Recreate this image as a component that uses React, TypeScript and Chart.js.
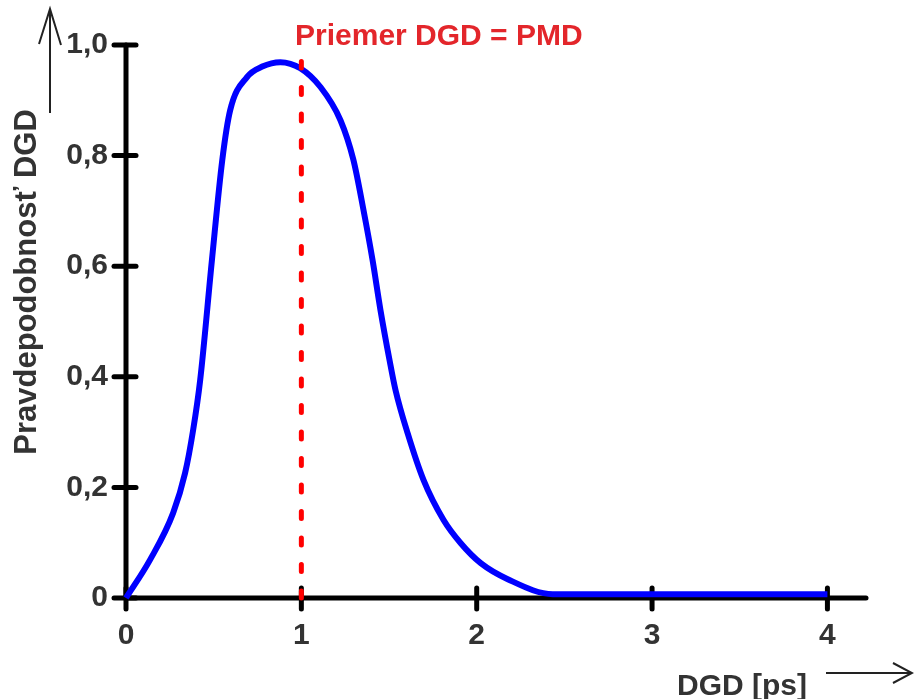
import React, { useEffect, useRef } from 'react';
import { Chart, registerables } from 'chart.js';

Chart.register(...registerables);

// ---- data ----
const dgdValues = [
  0, 0.137, 0.269, 0.337, 0.383, 0.423, 0.49, 0.549, 0.594, 0.69, 0.777, 0.88, 0.994,
  1.109, 1.223, 1.297, 1.354, 1.406, 1.451, 1.503, 1.537, 1.606, 1.697, 1.811,
  1.909, 2.023, 2.177, 2.434, 4.0,
];
const probabilityValues = [
  0, 0.069, 0.154, 0.226, 0.304, 0.394, 0.611, 0.792, 0.882, 0.942, 0.961, 0.969, 0.958,
  0.924, 0.864, 0.792, 0.702, 0.611, 0.521, 0.43, 0.376, 0.298, 0.213, 0.141,
  0.099, 0.063, 0.034, 0.007, 0.007,
];
const meanLineX = [1.0, 1.0];
const meanLineY = [0, 0.97];
const xTickValues = [0, 1, 2, 3, 4];
const yTickValues = [0, 0.2, 0.4, 0.6, 0.8, 1.0];
const xMax = 4.22;

const chartTitle = 'Priemer DGD = PMD';
const xAxisTitle = 'DGD [ps]';
const yAxisTitle = 'Pravdepodobnosť DGD';

const FONT = 'Arial, "Liberation Sans", sans-serif';
const TEXT_COLOR = '#333333';

const decorPlugin = {
  id: 'decor',
  beforeDatasetsDraw(chart: any) {
    const ctx = chart.ctx;
    const xs = chart.scales.x;
    const ys = chart.scales.y;
    const x0 = xs.getPixelForValue(0);
    const y0 = ys.getPixelForValue(0);
    const yTop = ys.getPixelForValue(yTickValues[yTickValues.length - 1]);
    ctx.save();
    ctx.strokeStyle = '#000000';
    ctx.lineWidth = 5;
    ctx.lineCap = 'round';
    ctx.beginPath();
    ctx.moveTo(x0, yTop);
    ctx.lineTo(x0, y0);
    ctx.stroke();
    ctx.beginPath();
    ctx.moveTo(x0, y0);
    ctx.lineTo(xs.right, y0);
    ctx.stroke();
    yTickValues.forEach((v) => {
      const py = ys.getPixelForValue(v);
      ctx.beginPath();
      ctx.moveTo(x0 - 12, py);
      ctx.lineTo(x0 + 10, py);
      ctx.stroke();
    });
    xTickValues.forEach((v) => {
      const px = xs.getPixelForValue(v);
      ctx.beginPath();
      ctx.moveTo(px, y0 - 10);
      ctx.lineTo(px, y0 + 11);
      ctx.stroke();
    });
    ctx.restore();
  },
  afterDraw(chart: any) {
    const ctx = chart.ctx;
    ctx.save();
    ctx.textBaseline = 'alphabetic';
    ctx.font = `bold 30px ${FONT}`;
    ctx.fillStyle = '#e3262b';
    ctx.textAlign = 'left';
    ctx.fillText(chartTitle, 295, 45);
    ctx.fillStyle = TEXT_COLOR;
    ctx.fillText(xAxisTitle, 677, 695);
    ctx.save();
    ctx.font = `bold 31px ${FONT}`;
    ctx.translate(36, 282);
    ctx.rotate(-Math.PI / 2);
    ctx.textAlign = 'center';
    ctx.fillText(yAxisTitle, 0, 0);
    ctx.restore();
    ctx.strokeStyle = '#222222';
    ctx.lineWidth = 2;
    ctx.lineCap = 'butt';
    ctx.beginPath();
    ctx.moveTo(50, 113);
    ctx.lineTo(50, 9);
    ctx.moveTo(39, 44);
    ctx.lineTo(50, 9);
    ctx.lineTo(61, 45);
    ctx.stroke();
    ctx.beginPath();
    ctx.moveTo(826, 673);
    ctx.lineTo(912, 673);
    ctx.moveTo(893, 663);
    ctx.lineTo(912, 673);
    ctx.lineTo(893, 683);
    ctx.stroke();
    ctx.restore();
  },
};

export default function App() {
  const canvasRef = useRef<HTMLCanvasElement | null>(null);

  useEffect(() => {
    if (!canvasRef.current) return;
    const chart = new Chart(canvasRef.current, {
      type: 'line',
      data: {
        datasets: [
          {
            data: meanLineX.map((x, i) => ({ x, y: meanLineY[i] })),
            borderColor: '#ff0000',
            borderWidth: 5,
            borderDash: [7, 19.5],
            borderCapStyle: 'round',
            pointRadius: 0,
            tension: 0,
            clip: false,
            order: 0,
          } as any,
          {
            data: dgdValues.map((x, i) => ({ x, y: probabilityValues[i] })),
            borderColor: '#0000ff',
            borderWidth: 6,
            pointRadius: 0,
            cubicInterpolationMode: 'monotone',
            clip: false,
            order: 1,
          } as any,
        ],
      },
      options: {
        animation: false,
        responsive: false,
        events: [],
        layout: { padding: { top: 45, right: 48, left: 0, bottom: 0 } },
        plugins: { legend: { display: false }, tooltip: { enabled: false }, title: { display: false } },
        scales: {
          x: {
            type: 'linear',
            min: 0,
            max: xMax,
            grid: { display: false, drawTicks: false },
            border: { display: false },
            ticks: {
              font: { family: FONT, size: 30, weight: 'bold' },
              color: TEXT_COLOR,
              padding: 20,
              maxRotation: 0,
              autoSkip: false,
              callback: (v: any) => String(v),
            },
            afterBuildTicks: (s: any) => {
              s.ticks = xTickValues.map((value) => ({ value }));
            },
            afterFit: (s: any) => {
              s.height = 101;
            },
          },
          y: {
            type: 'linear',
            min: 0,
            max: 1,
            grid: { display: false, drawTicks: false },
            border: { display: false },
            ticks: {
              font: { family: FONT, size: 30, weight: 'bold' },
              color: TEXT_COLOR,
              padding: 18,
              callback: (v: any) => (Number(v) === 0 ? '0' : Number(v).toFixed(1).replace('.', ',')),
            },
            afterBuildTicks: (s: any) => {
              s.ticks = yTickValues.map((value) => ({ value }));
            },
            afterFit: (s: any) => {
              s.width = 126;
            },
          },
        },
      } as any,
      plugins: [decorPlugin],
    });
    return () => chart.destroy();
  }, []);

  return (
    <div style={{ position: 'absolute', left: 0, top: 0, width: 914, height: 699, background: '#ffffff' }}>
      <canvas ref={canvasRef} width={914} height={699} style={{ display: 'block' }} />
    </div>
  );
}
